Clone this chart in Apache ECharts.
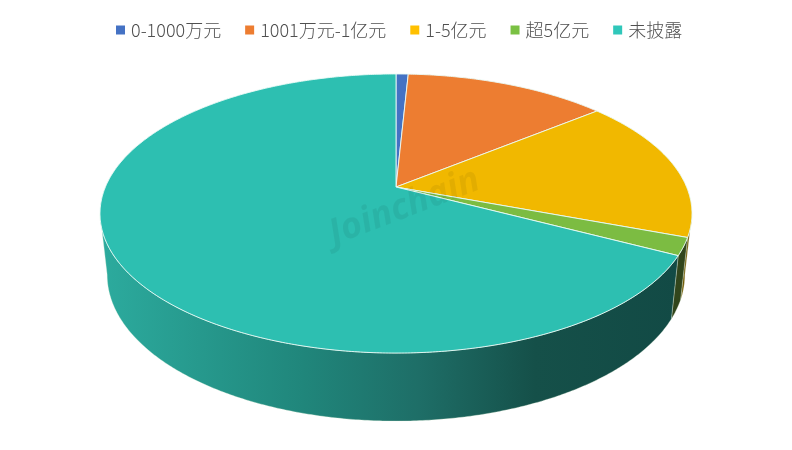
<!DOCTYPE html>
<html><head><meta charset="utf-8">
<style>html,body{margin:0;padding:0;background:#fff}#c{width:792px;height:450px}</style>
<script src="https://cdn.jsdelivr.net/npm/echarts@6/dist/echarts.min.js"></script>
</head><body><div id="c"></div>
<script>
var categories = ['0-1000万元','1001万元-1亿元','1-5亿元','超5亿元','未披露'];
var values = [0.8,13.3,16.6,2.0,67.3];
var topColors = ['#4472c4','#ed7d31','#f1b800','#7cbc42','#2dbfb1'];
var legendColors = ['#4472c4','#ed7d31','#ffc000','#7ac143','#2fc7ba'];
var wallColors = ['#2a4476','#8e4b1d','#6e5600','#31451c'];
var total = values.reduce(function(a,b){return a+b;},0);

var topDisc = {cx:396, cy:187, a:134.5, b:290.6, k:0.19};
var bottomDisc = {cx:396, cy:247, a:141, b:283.6, k:0.19};
var wallFrom = Math.acos(-topDisc.k)*180/Math.PI, wallTo = 360-wallFrom;

function project(disc, deg){
  var t = deg*Math.PI/180, u = Math.sin(t), v = -Math.cos(t), d = 1-disc.k*v;
  return [disc.cx+disc.b*u/d, disc.cy+disc.a*v/d];
}
function arc(disc, d0, d1){
  var n = Math.max(2, Math.ceil((d1-d0)/0.5)), pts = [];
  for (var i=0;i<=n;i++) pts.push(project(disc, d0+(d1-d0)*i/n));
  return pts;
}
function range(i){
  var s = 0; for (var j=0;j<i;j++) s += values[j];
  return [s/total*360, (s+values[i])/total*360];
}
var tealWall = {type:'linear', x:100, y:0, x2:680, y2:0, global:true, colorStops:[
  {offset:0,color:'#2cab9e'},{offset:0.35,color:'#20867b'},{offset:0.55,color:'#1e6e67'},
  {offset:0.75,color:'#155049'},{offset:1,color:'#124a45'}]};

function topItem(i){ return function(){
  var r = range(i);
  return {type:'polygon', shape:{points:[[topDisc.cx,topDisc.cy]].concat(arc(topDisc,r[0],r[1]))},
    style:{fill:topColors[i], stroke:'#eafaf6', lineWidth:0.9, lineJoin:'round'}};
};}
function wallItem(i){ return function(){
  var r = range(i), d0 = Math.max(r[0],wallFrom), d1 = Math.min(r[1],wallTo);
  if (d1 <= d0) return null;
  var pts = arc(topDisc,d0,d1).concat(arc(bottomDisc,d0,d1).reverse());
  return {type:'polygon', shape:{points:pts},
    style:{fill:i===4?tealWall:wallColors[i], stroke:'rgba(235,245,225,0.55)', lineWidth:0.6}};
};}

var series = [];
categories.forEach(function(name,i){
  series.push({type:'custom', name:name, coordinateSystem:'none', z:3, silent:true, animation:false,
    itemStyle:{color:legendColors[i]}, data:[values[i]], renderItem:topItem(i)});
});
categories.forEach(function(name,i){
  series.push({type:'custom', name:name, coordinateSystem:'none', z:2, silent:true, animation:false,
    itemStyle:{color:legendColors[i]}, data:[values[i]], renderItem:wallItem(i)});
});

var chart = echarts.init(document.getElementById('c'),null,{renderer:'canvas'});
chart.setOption({
  animation:false,
  backgroundColor:'#fff',
  legend:{data:categories, top:16, left:111, icon:'rect', itemWidth:9, itemHeight:9, itemGap:24, selectedMode:false,
    textStyle:{color:'#505050', fontSize:18, fontWeight:300, fontFamily:'"Noto Sans CJK SC","Noto Sans",sans-serif', padding:[0,0,0,1]}},
  graphic:[{type:'text', left:324, top:162, z:100, rotation:21*Math.PI/180, silent:true,
    style:{text:'Joinchain', fill:'rgba(0,0,0,0.06)', font:'italic bold 36px "Open Sans",sans-serif'}}],
  series:series
});
</script></body></html>
